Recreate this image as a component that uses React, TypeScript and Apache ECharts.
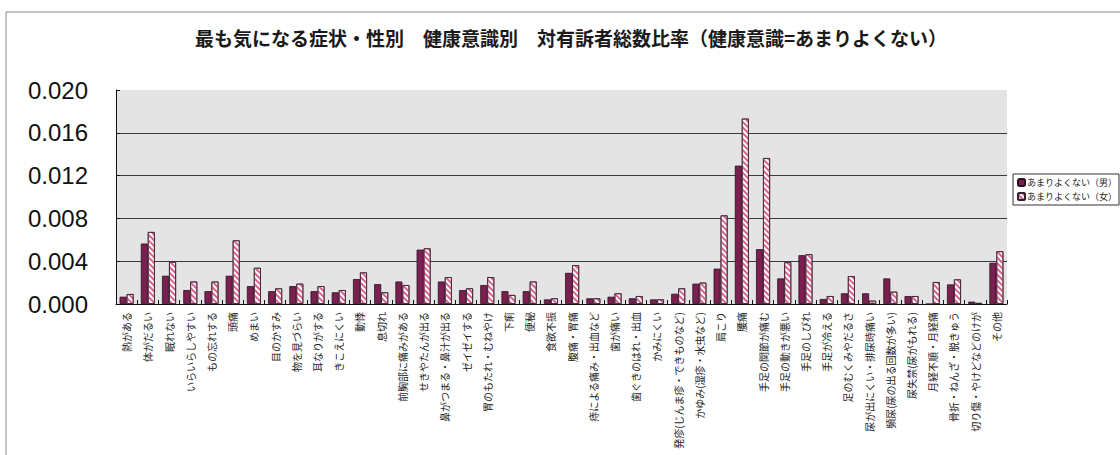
import React, { useEffect, useRef } from "react";
import * as echarts from "echarts";

const titleText = "最も気になる症状・性別　健康意識別　対有訴者総数比率（健康意識=あまりよくない）";

const categories = [
  "熱がある", "体がだるい", "眠れない", "いらいらしやすい", "もの忘れする", "頭痛", "めまい",
  "目のかすみ", "物を見づらい", "耳なりがする", "きこえにくい", "動悸", "息切れ",
  "前胸部に痛みがある", "せきやたんが出る", "鼻がつまる・鼻汁が出る", "ゼイゼイする",
  "胃のもたれ・むねやけ", "下痢", "便秘", "食欲不振", "腹痛・胃痛", "痔による痛み・出血など",
  "歯が痛い", "歯ぐきのはれ・出血", "かみにくい", "発疹(じんま疹・できものなど)",
  "かゆみ(湿疹・水虫など)", "肩こり", "腰痛", "手足の関節が痛む", "手足の動きが悪い",
  "手足のしびれ", "手足が冷える", "足のむくみやだるさ", "尿が出にくい・排尿時痛い",
  "頻尿(尿の出る回数が多い)", "尿失禁(尿がもれる)", "月経不順・月経痛",
  "骨折・ねんざ・脱きゅう", "切り傷・やけどなどのけが", "その他",
];

const seriesNames = ["あまりよくない（男）", "あまりよくない（女）"];

const maleValues = [
  0.00068, 0.00565, 0.00264, 0.0013, 0.0012, 0.00264, 0.00167,
  0.0012, 0.00167, 0.0012, 0.00109, 0.00233, 0.00186,
  0.0021, 0.00508, 0.0021, 0.0013,
  0.00177, 0.0012, 0.0012, 0.00043, 0.00291, 0.00053,
  0.00068, 0.00053, 0.00043, 0.00096,
  0.0019, 0.0033, 0.01293, 0.00512, 0.00239,
  0.00456, 0.00047, 0.001, 0.001,
  0.00239, 0.00074, 0,
  0.00183, 0.00022, 0.00385,
];

const femaleValues = [
  0.00093, 0.00673, 0.00394, 0.0021, 0.0021, 0.00595, 0.00338,
  0.00146, 0.0019, 0.00167, 0.0013, 0.00295, 0.00109,
  0.00177, 0.0052, 0.00251, 0.00146,
  0.00251, 0.00084, 0.0021, 0.00053, 0.00363, 0.00053,
  0.001, 0.00074, 0.00043, 0.00146,
  0.002, 0.00828, 0.01733, 0.01364, 0.0039,
  0.00465, 0.00074, 0.0026, 0.00031,
  0.00115, 0.00074, 0.00205,
  0.0023, 0.0001, 0.00493,
];

const yMin = 0;
const yMax = 0.02;
const yInterval = 0.004;

export default function App() {
  const ref = useRef<HTMLDivElement>(null);

  useEffect(() => {
    document.body.style.margin = "0";
    if (!ref.current) return;
    const chart = echarts.init(ref.current, null, { renderer: "svg" });
    const cjk = "'Noto Sans CJK JP', 'Noto Sans', sans-serif";
    chart.setOption({
      animation: false,
      backgroundColor: "#ffffff",
      textStyle: { fontFamily: cjk },
      title: {
        text: titleText,
        left: 566,
        textAlign: "center",
        top: 23,
        textStyle: { fontSize: 19, fontWeight: "bold", color: "#1a1a1a", fontFamily: cjk },
      },
      graphic: [
        {
          type: "rect",
          shape: { x: 6, y: 12, width: 1130, height: 460 },
          style: { fill: "none", stroke: "#8a8a8a", lineWidth: 1 },
          silent: true,
          z: -10,
        },
      ],
      legend: {
        orient: "vertical",
        left: 1013,
        top: 174,
        itemWidth: 7,
        itemHeight: 7,
        itemGap: 5,
        padding: [4, 2, 4, 4],
        borderColor: "#333",
        borderWidth: 1,
        backgroundColor: "#ffffff",
        textStyle: { fontSize: 9, color: "#222", fontFamily: cjk, padding: [0, 0, 0, -3] },
        data: seriesNames,
      },
      grid: {
        left: 116,
        right: 113,
        top: 90,
        bottom: 151,
        show: true,
        backgroundColor: "#e4e4e4",
        borderWidth: 0,
      },
      xAxis: {
        type: "category",
        data: categories,
        axisLine: { show: true, lineStyle: { color: "#111", width: 1 } },
        axisTick: { show: true, inside: true, length: 4, lineStyle: { color: "#111" } },
        axisLabel: {
          interval: 0,
          rotate: 90,
          fontSize: 10,
          color: "#222",
          margin: 8,
          fontFamily: cjk,
        },
      },
      yAxis: {
        type: "value",
        min: yMin,
        max: yMax,
        interval: yInterval,
        axisLine: { show: true, lineStyle: { color: "#111", width: 1 } },
        axisTick: { show: true, inside: true, length: 4, lineStyle: { color: "#111" } },
        splitLine: {
          show: true,
          showMaxLine: false,
          lineStyle: { color: "#3a3a3a", width: 1 },
        },
        axisLabel: {
          fontSize: 24,
          color: "#111",
          margin: 28,
          fontFamily: "'Liberation Sans', Arial, sans-serif",
          formatter: (v: number) => v.toFixed(3),
        },
      },
      series: [
        {
          name: seriesNames[0],
          type: "bar",
          data: maleValues,
          barWidth: 7,
          barGap: "0%",
          itemStyle: { color: "#7a1f50", borderColor: "#2a1020", borderWidth: 0.8 },
        },
        {
          name: seriesNames[1],
          type: "bar",
          data: femaleValues,
          barWidth: 7,
          barGap: "0%",
          itemStyle: {
            color: "#ffffff",
            borderColor: "#3a2030",
            borderWidth: 0.8,
            decal: {
              symbol: "rect",
              color: "#d8628e",
              dashArrayX: [1, 0],
              dashArrayY: [2, 2],
              rotation: Math.PI / 4,
              symbolSize: 1,
            },
          },
        },
      ],
    });
    return () => chart.dispose();
  }, []);

  return <div ref={ref} style={{ width: 1120, height: 455 }} />;
}
